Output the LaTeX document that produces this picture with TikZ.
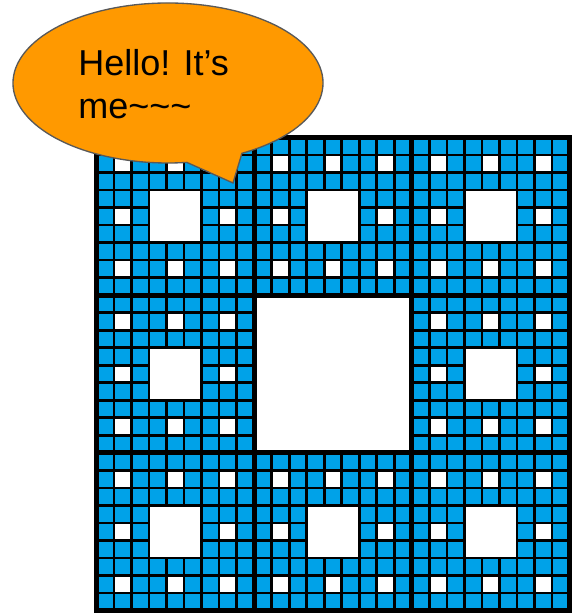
\documentclass[tikz,border=0pt]{standalone}
\usepackage{fontspec}
\newfontfamily\bubblefont{Liberation Sans}
\usetikzlibrary{positioning, calc}

\definecolor{carpetblue}{RGB}{0,162,232}
\definecolor{bubbleorange}{RGB}{255,153,0}
\definecolor{bubbleline}{RGB}{89,89,89}

\begin{document}
\begin{tikzpicture}[
  x=0.75pt, y=0.75pt,
  gridline/.style={draw=black, line width=2pt},
  hole/.style={fill=white, draw=black, line width=2pt},
  frame/.style={draw=black, line width=3.75pt},
  bubble/.style={fill=bubbleorange, draw=bubbleline, line width=1pt},
  say/.style={font={\bubblefont\fontsize{27}{32}\selectfont}, align=left, inner sep=0pt},
]
\useasboundingbox (0,0) rectangle (573,615);

% --- carpet: 27 x 27 cells, lower left corner at (x0,y0)
\def\xo{96.5}
\def\yo{4.5}
\def\c{17.5185}

% --- the eight outer blocks (9 x 9 cells each)
\foreach \bi in {0,1,2} {
  \foreach \bj in {0,1,2} {
    \ifnum\numexpr\bi*10+\bj\relax=11 \else
      \pgfmathsetmacro\bx{\xo+9*\c*\bi}
      \pgfmathsetmacro\by{\yo+9*\c*\bj}
      \fill[carpetblue] (\bx,\by) rectangle ++({9*\c},{9*\c});
      \foreach \k in {1,...,8} {
        \draw[gridline] ({\bx+\k*\c},\by) -- ++(0,{9*\c});
        \draw[gridline] (\bx,{\by+\k*\c}) -- ++({9*\c},0);
      }
      % single-cell holes in the eight small blocks
      \foreach \si in {0,1,2} {
        \foreach \sj in {0,1,2} {
          \ifnum\numexpr\si*10+\sj\relax=11 \else
            \draw[hole] ({\bx+(3*\si+1)*\c},{\by+(3*\sj+1)*\c}) rectangle ++(\c,\c);
          \fi
        }
      }
      % middle 3 x 3 hole of the block
      \draw[hole] ({\bx+3*\c},{\by+3*\c}) rectangle ++({3*\c},{3*\c});
    \fi
  }
}

% --- heavy lines: outer frame and the 3 x 3 split
\draw[frame] (\xo,\yo) rectangle ++({27*\c},{27*\c});
\foreach \k in {9,18} {
  \draw[frame] ({\xo+\k*\c},\yo) -- ++(0,{27*\c});
  \draw[frame] (\xo,{\yo+\k*\c}) -- ++({27*\c},0);
}

% --- speech bubble with its tail
\coordinate (tip) at (233,432);
\draw[bubble] ($(168,532)+(-61.5:155 and 80)$)
  arc[start angle=-61.5, end angle=277, x radius=155, y radius=80]
  -- (tip) -- cycle;
\node[say, anchor=north west] (hello) at (78,566)
  {Hello! It’s\\me\textasciitilde\textasciitilde\textasciitilde};

\end{tikzpicture}
\end{document}
